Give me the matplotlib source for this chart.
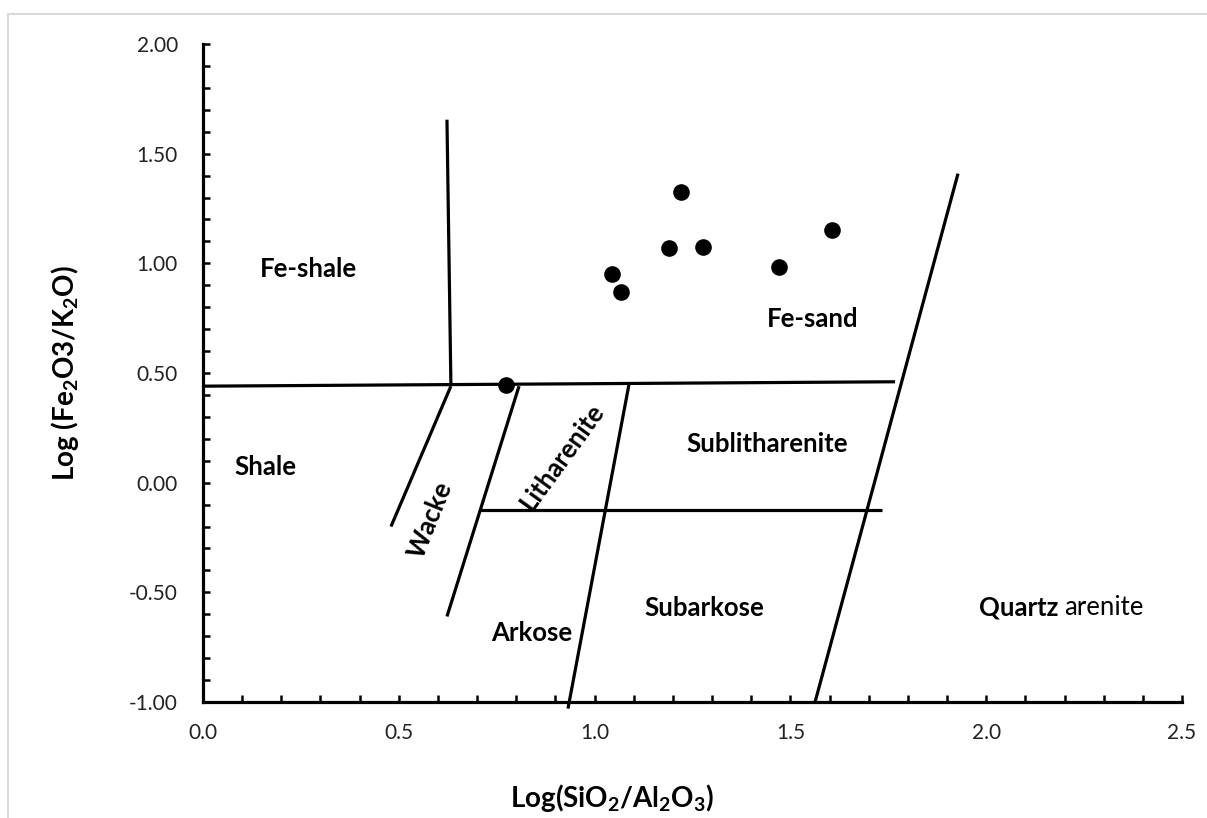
import matplotlib
matplotlib.use('Agg')
from matplotlib import pyplot as plt
from matplotlib.ticker import MultipleLocator, FormatStrFormatter
from matplotlib.patches import Rectangle

plt.rcParams['font.family'] = ['Lato', 'DejaVu Sans']
plt.rcParams['mathtext.fontset'] = 'custom'
plt.rcParams['mathtext.rm'] = 'Lato:bold'
plt.rcParams['mathtext.it'] = 'Lato:bold'
plt.rcParams['mathtext.bf'] = 'Lato:bold'

# sample points: Log(SiO2/Al2O3), Log(Fe2O3/K2O)
sio2_al2o3 = [1.045, 1.067, 1.221, 1.190, 1.277, 1.471, 1.606, 0.774]
fe2o3_k2o = [0.953, 0.871, 1.327, 1.072, 1.076, 0.985, 1.154, 0.447]

# field boundaries (x0, y0, x1, y1)
bound_x0 = [0.00, 0.623, 0.633, 0.807, 1.088, 0.707, 1.928]
bound_y0 = [0.44, 1.655, 0.44, 0.44, 0.45, -0.123, 1.409]
bound_x1 = [1.767, 0.633, 0.480, 0.623, 0.932, 1.734, 1.563]
bound_y1 = [0.46, 0.45, -0.20, -0.61, -1.03, -0.123, -1.00]

# field names
field_names = ['Fe-shale', 'Shale', 'Wacke', 'Litharenite', 'Arkose',
               'Subarkose', 'Sublitharenite', 'Fe-sand']
field_x = [0.27, 0.16, 0.58, 0.917, 0.84, 1.28, 1.44, 1.558]
field_y = [0.976, 0.07, -0.17, 0.12, -0.684, -0.57, 0.178, 0.748]
field_rot = [0, 0, 68, 54, 0, 0, 0, 0]

fig = plt.figure(figsize=(12.07, 8.18), dpi=100)
fig.patches.append(Rectangle((8/1207, -0.1), 1.2, 1 - 14/818 + 0.1, transform=fig.transFigure,
                             fill=False, edgecolor='#d9d9d9', linewidth=1.5))
ax = fig.add_axes([203/1207, 1 - 702/818, (1182-203)/1207, (702-44)/818])

for i in range(len(bound_x0)):
    ax.plot([bound_x0[i], bound_x1[i]], [bound_y0[i], bound_y1[i]],
            color='black', linewidth=2.3, solid_capstyle='butt', clip_on=False)

ax.scatter(sio2_al2o3, fe2o3_k2o, s=120, color='black', zorder=5, clip_on=False)

for name, x, y, r in zip(field_names, field_x, field_y, field_rot):
    ax.text(x, y, name, fontsize=18.5, fontweight='bold', ha='center', va='center',
            rotation=r, rotation_mode='anchor')
ax.text(2.185, -0.57, 'Quartz', fontsize=18.5, fontweight='bold', ha='right', va='center')
ax.text(2.20, -0.57, 'arenite', fontsize=18.5, ha='left', va='center')

ax.set_xlim(0, 2.5)
ax.set_ylim(-1, 2)
ax.xaxis.set_major_locator(MultipleLocator(0.5))
ax.xaxis.set_minor_locator(MultipleLocator(0.1))
ax.yaxis.set_major_locator(MultipleLocator(0.5))
ax.yaxis.set_minor_locator(MultipleLocator(0.1))
ax.xaxis.set_major_formatter(FormatStrFormatter('%.1f'))
ax.yaxis.set_major_formatter(FormatStrFormatter('%.2f'))

for s in ['top', 'right']:
    ax.spines[s].set_visible(False)
for s in ['left', 'bottom']:
    ax.spines[s].set_linewidth(2.3)
ax.tick_params(which='both', direction='in', length=5, width=1.8, colors='black')
ax.tick_params(axis='both', which='major', labelsize=15, labelcolor='#222222')
ax.tick_params(axis='x', which='major', pad=15)
ax.tick_params(axis='y', which='major', pad=18)

ax.set_xlabel(r'Log(SiO$_2$/Al$_2$O$_3$)', fontsize=20, fontweight='bold')
ax.set_ylabel(r'Log (Fe$_2$O3/K$_2$O)', fontsize=20, fontweight='bold')
ax.xaxis.set_label_coords((612-203)/979, -0.146)
ax.yaxis.set_label_coords((65-203)/979, 0.5)
ax.xaxis.label.set_va('center')
ax.yaxis.label.set_va('center')

fig.savefig('out.png', dpi=100)
